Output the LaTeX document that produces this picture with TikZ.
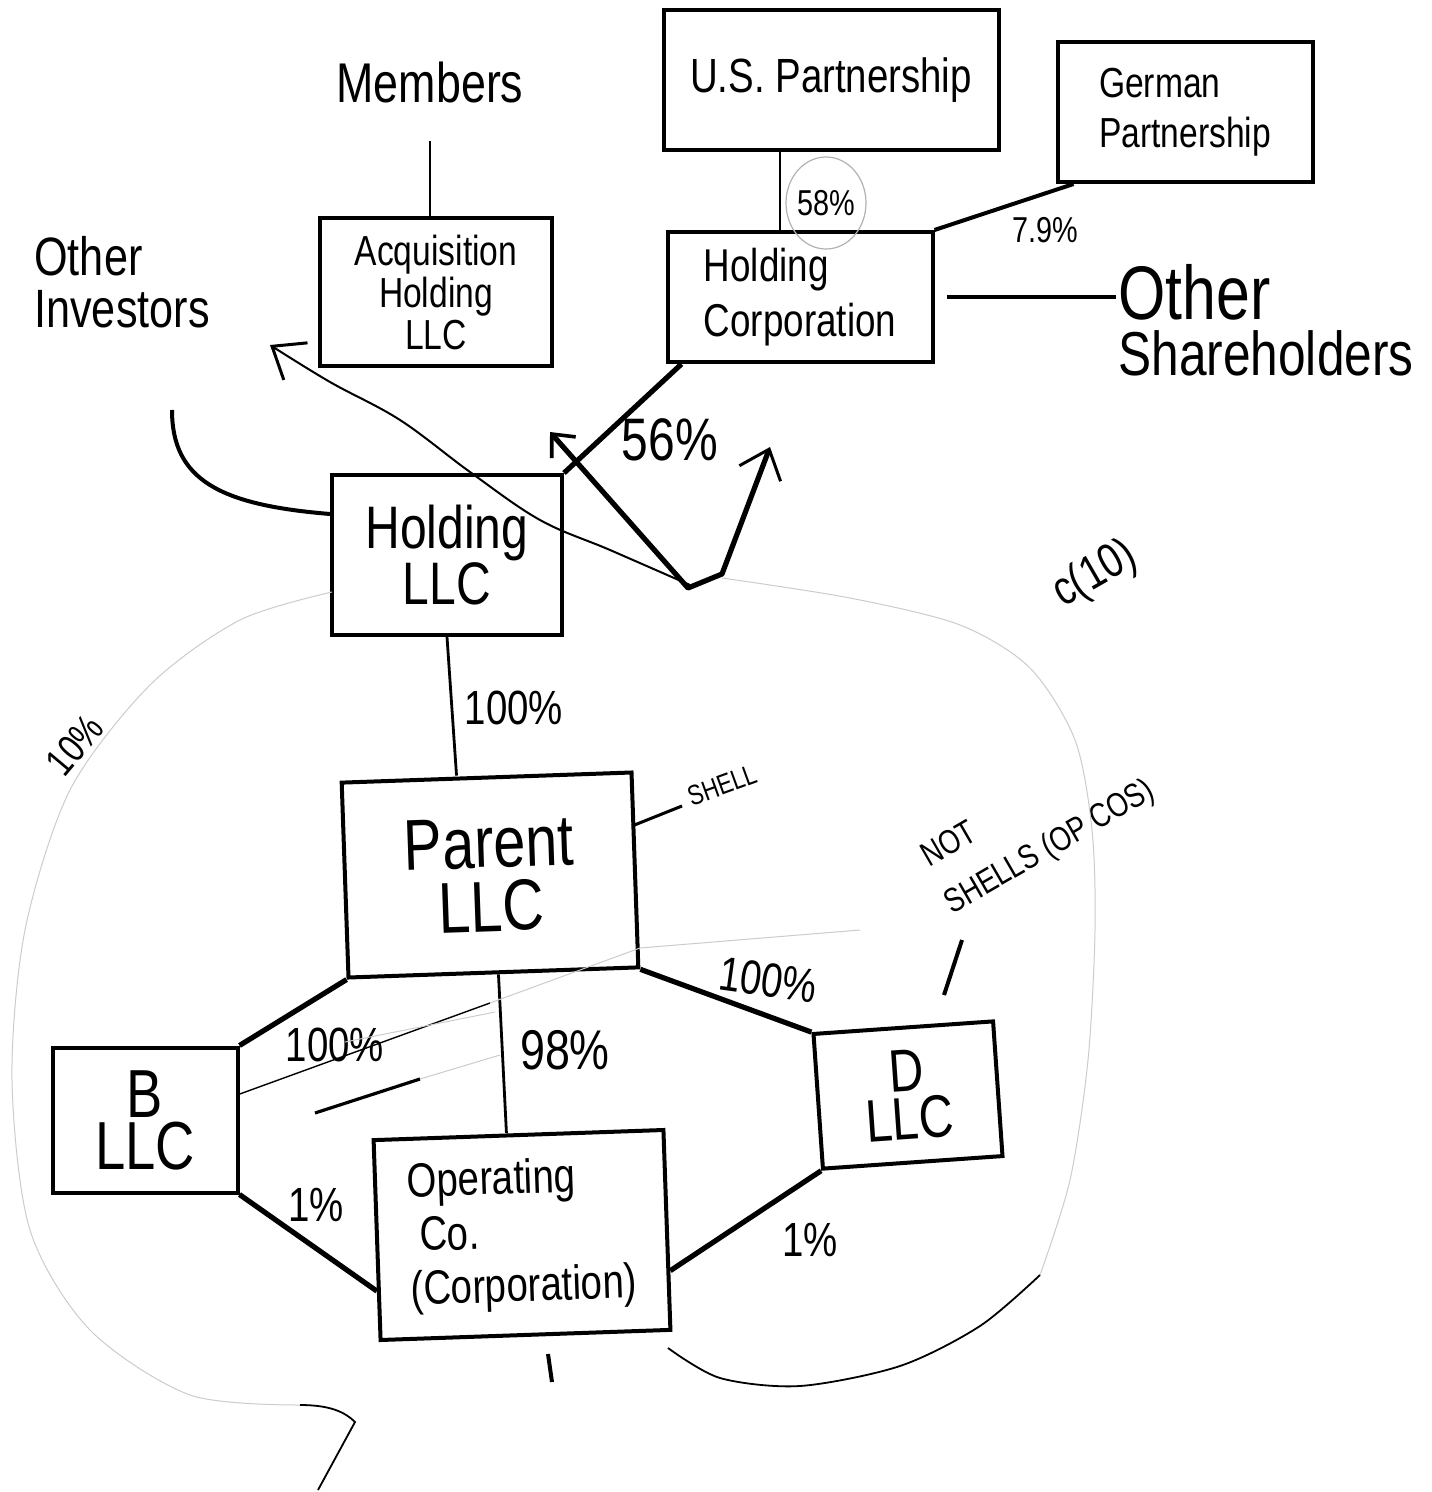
\documentclass[tikz,border=0pt]{standalone}
\usepackage{fontspec}
\newfontfamily\hand[FakeStretch=0.8]{Liberation Sans}
\usetikzlibrary{arrows.meta,calc}
\newcommand\hsz[1]{\fontsize{#1pt}{1.2\dimexpr#1pt\relax}\selectfont}
\begin{document}
\begin{tikzpicture}[x=0.5pt,y=-0.5pt,
  box/.style={draw, line width=2pt, inner sep=0pt, align=center},
  conn/.style={line width=1pt},
  heavy/.style={line width=2.6pt},
  lbl/.style={inner sep=1pt, align=center},
  faint/.style={draw=gray!40, line width=0.5pt}]
\fill[white] (0,0) rectangle (1431,1492);
\useasboundingbox (0,0) rectangle (1431,1492);

% boxes
\node[box, minimum width=167.5pt, minimum height=70pt, font=\hand\hsz{24}] (us) at (831,80) {U.S. Partnership};
\node[box, minimum width=127.5pt, minimum height=70pt, align=left, font=\hand\hsz{21}] (ger) at (1185,112) {German\\Partnership};
\node[box, minimum width=132.5pt, minimum height=65pt, align=left, font=\hand\hsz{23}] (hcorp) at (800,297) {Holding\\Corporation};
\node[box, minimum width=116pt, minimum height=74pt, font=\hand\fontsize{21pt}{21pt}\selectfont] (acq) at (436,292) {Acquisition\\Holding\\LLC};
\node[box, minimum width=115pt, minimum height=80pt, font=\hand\fontsize{30pt}{27pt}\selectfont] (hllc) at (447,555) {Holding\\LLC};
\node[box, minimum width=145pt, minimum height=97.5pt, rotate=2, font=\hand\fontsize{36pt}{32pt}\selectfont] (parent) at (490,875) {Parent\\LLC};
\node[box, minimum width=92.5pt, minimum height=72.5pt, font=\hand\fontsize{34pt}{26pt}\selectfont] (b) at (145,1120) {B\\LLC};
\node[box, minimum width=90pt, minimum height=67.5pt, rotate=4, font=\hand\fontsize{30pt}{24pt}\selectfont] (d) at (908,1095) {D\\LLC};
\node[box, minimum width=145pt, minimum height=100pt, rotate=2, align=left, font=\hand\fontsize{24pt}{27pt}\selectfont] (opco) at (522,1235) {Operating\\\ Co.\\(Corporation)};

% free labels
\node[lbl, font=\hand\hsz{28}] (members) at (430,82) {Members};
\node[lbl, align=left, font=\hand\fontsize{27pt}{26pt}\selectfont] (oinv) at (122,282) {Other\\Investors};
\node[lbl, align=left, font=\hand\fontsize{31pt}{28pt}\selectfont] (oshare) at (1266,320) {{\fontsize{38pt}{28pt}\selectfont Other}\\Shareholders};
\node[lbl, font=\hand\hsz{18}] (p58) at (826,203) {58\%};
\node[lbl, font=\hand\hsz{18}] (p79) at (1045,230) {7.9\%};
\node[lbl, font=\hand\hsz{30}] (p56) at (670,440) {56\%};
\node[lbl, font=\hand\hsz{24}] (p100a) at (514,708) {100\%};
\node[lbl, rotate=20, font=\hand\hsz{14}] (shell) at (722,785) {SHELL};
\node[lbl, rotate=30, font=\hand\hsz{17}] (notA) at (948,843) {NOT};
\node[lbl, rotate=30, font=\hand\hsz{17}] (notB) at (1050,848) {SHELLS (OP COS)};
\node[lbl, rotate=30, font=\hand\hsz{24}] (c10) at (1095,575) {c(10)};
\node[lbl, rotate=50, font=\hand\hsz{20}] (p10) at (75,745) {10\%};
\node[lbl, font=\hand\hsz{24}] (p100b) at (335,1045) {100\%};
\node[lbl, font=\hand\hsz{28}] (p98) at (565,1050) {98\%};
\node[lbl, rotate=-8, font=\hand\hsz{24}] (p100c) at (768,980) {100\%};
\node[lbl, font=\hand\hsz{24}] (p1a) at (316,1205) {1\%};
\node[lbl, font=\hand\hsz{24}] (p1b) at (810,1240) {1\%};

% circle around 58%
\draw[draw=gray!60, line width=0.6pt] (p58) ellipse [x radius=20pt, y radius=23pt];

% connectors
\draw[conn, shorten <=18pt] (members.south) -- (members.south |- acq.north);
\draw[conn] ($(acq.south)+(-6,0)$) -- ($(acq.south)+(-6,0)$ |- hllc.north);
\draw[conn] ($(us.south)+(-51,0)$) -- ($(hcorp.north)+(-20,0)$);
\draw[heavy, line width=2pt] ($(ger.south west)+(18,0)$) -- (hcorp.north east);
\draw[heavy, line width=2pt, shorten <=6pt] (hcorp.east) -- (hcorp.east -| oshare.west);
\draw[heavy] ($(hcorp.south west)+(16,0)$) -- (hllc.north east);
\coordinate (oinvend) at (172,410);
\draw[heavy, line width=2pt] ($(hllc.north west)!0.25!(hllc.south west)$) .. controls (220,505) and (172,480) .. (oinvend);
\draw[conn, line width=1.4pt] (hllc.south) -- ($(parent.north)+(-30,0)$);
\draw[heavy] (parent.south west) -- (b.north east);
\draw[conn, line width=1.4pt] ($(parent.south)+(5,0)$) -- ($(opco.north)+(-12,0)$);
\draw[heavy] (parent.south east) -- (d.north west);
\draw[heavy] (b.south east) -- ($(opco.south west)!0.25!(opco.north west)$);
\draw[heavy] (d.south west) -- ($(opco.south east)!0.3!(opco.north east)$);

% shell tick
\coordinate (shA) at (632,826);
\coordinate (shB) at (682,806);
\draw[conn, line width=1.5pt] (shA) -- (shB);
% stroke under NOT SHELLS
\coordinate (nsA) at (962,940);
\coordinate (nsB) at (944,995);
\draw[line width=2pt] (nsA) -- (nsB);

% thin wavy arrow toward Other Investors
\draw[conn, -{Straight Barb[length=14pt,width=22pt,line width=1.5pt]}]
  plot[smooth, tension=0.6] coordinates {(690,585) (610,550) (540,520) (470,472) (400,420) (330,382) (270,345)};

% thick V arrow
\coordinate (va) at (550,432);
\coordinate (vb) at (688,588);
\coordinate (vc) at (722,574);
\coordinate (vd) at (770,447);
\draw[line width=2.6pt, line join=round,
  {Straight Barb[length=9pt,width=16pt,line width=1.8pt]}-{Straight Barb[length=13pt,width=22pt,line width=1.5pt]}]
  (va) -- (vb) -- (vc) -- (vd);

% lines across B / Parent area
\draw[conn, line width=0.7pt] (237,1095) -- (490,1003);
\draw[faint] (490,1003) -- (640,948) -- (860,930);
\draw[line width=1.6pt] (315,1113) -- (420,1079);
\draw[faint] (420,1079) -- (500,1055);
\draw[faint] (345,1042) -- (495,1012);

% short stroke under Operating Co.
\draw[line width=2pt] (548,1354) -- (552,1382);

% large faint loop and bottom strokes
\draw[faint] plot[smooth] coordinates {(332,592) (240,620) (150,685) (70,790) (25,930) (12,1080) (30,1230) (90,1330) (190,1395) (300,1405)};
\draw[conn, line width=0.9pt] (300,1405) .. controls (330,1405) and (345,1412) .. (355,1422) -- (318,1490);
\draw[faint] plot[smooth] coordinates {(722,578) (850,598) (960,625) (1030,668) (1075,740) (1092,830) (1095,930) (1088,1060) (1070,1180) (1040,1275)};
\draw[conn, line width=0.9pt] plot[smooth] coordinates {(668,1348) (720,1378) (800,1386) (900,1366) (980,1326) (1040,1275)};
\end{tikzpicture}
\end{document}
